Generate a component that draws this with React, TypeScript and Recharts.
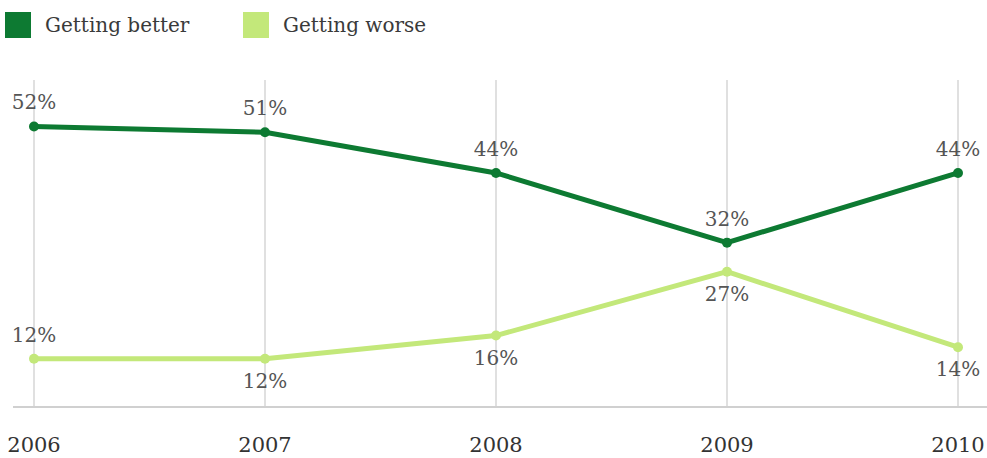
import React from 'react';
import { LineChart, Line, XAxis, YAxis, ReferenceLine, LabelList } from 'recharts';

const YEARS = ['2006', '2007', '2008', '2009', '2010'];
const GETTING_BETTER = [52, 51, 44, 32, 44];
const GETTING_WORSE = [12, 12, 16, 27, 14];

const DARK_GREEN = '#0d7a32';
const LIGHT_GREEN = '#c3e87a';
const FONT = '"DejaVu Serif", Georgia, serif';
const Y_MIN = 3.7;
const Y_MAX = 60;

const data = YEARS.map((year, i) => ({
  year,
  better: GETTING_BETTER[i],
  worse: GETTING_WORSE[i],
}));

// better labels sit above the point, worse labels below (except the first one)
const BetterLabel = (props: any) => {
  const { x, y, value } = props;
  return (
    <text x={x} y={y - 17} textAnchor="middle" fontSize={20} fill="#555" fontFamily={FONT}>
      {value}%
    </text>
  );
};

const WorseLabel = (props: any) => {
  const { x, y, value, index } = props;
  const dy = index === 0 ? -17 : 29;
  return (
    <text x={x} y={y + dy} textAnchor="middle" fontSize={20} fill="#555" fontFamily={FONT}>
      {value}%
    </text>
  );
};

const LegendItem = ({ color, label, left }: { color: string; label: string; left: number }) => (
  <div style={{ position: 'absolute', left, top: 12, display: 'flex', alignItems: 'center' }}>
    <div style={{ width: 26, height: 26, background: color }} />
    <span style={{ marginLeft: 14, fontSize: 20, color: '#3a3a3a', fontFamily: FONT }}>{label}</span>
  </div>
);

export default function App() {
  return (
    <div style={{ position: 'absolute', left: 0, top: 0, width: 987, height: 458, background: '#fff' }}>
      <LegendItem color={DARK_GREEN} label="Getting better" left={5} />
      <LegendItem color={LIGHT_GREEN} label="Getting worse" left={243} />
      <LineChart width={987} height={458} data={data} margin={{ top: 80, right: 0, bottom: 11, left: 13 }}>
        <XAxis
          dataKey="year"
          height={40}
          padding={{ left: 21, right: 29 }}
          axisLine={false}
          tickLine={false}
          tickSize={0}
          tickMargin={30}
          tick={{ fontSize: 21, fill: '#333', fontFamily: FONT }}
          interval={0}
        />
        <YAxis hide domain={[Y_MIN, Y_MAX]} />
        {YEARS.map((year) => (
          <ReferenceLine key={year} x={year} stroke="#d6d6d6" strokeWidth={1.5} />
        ))}
        <ReferenceLine y={Y_MIN} stroke="#d0d0d0" strokeWidth={2} />
        <Line
          dataKey="better"
          stroke={DARK_GREEN}
          strokeWidth={5}
          dot={{ r: 5, fill: DARK_GREEN, stroke: DARK_GREEN, strokeWidth: 0 }}
          isAnimationActive={false}
        >
          <LabelList dataKey="better" content={BetterLabel} />
        </Line>
        <Line
          dataKey="worse"
          stroke={LIGHT_GREEN}
          strokeWidth={5}
          dot={{ r: 5, fill: LIGHT_GREEN, stroke: LIGHT_GREEN, strokeWidth: 0 }}
          isAnimationActive={false}
        >
          <LabelList dataKey="worse" content={WorseLabel} />
        </Line>
      </LineChart>
    </div>
  );
}
